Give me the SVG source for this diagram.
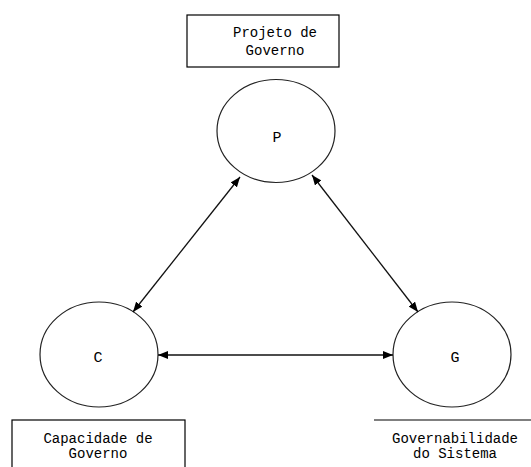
<svg xmlns="http://www.w3.org/2000/svg" width="531" height="467" viewBox="0 0 531 467">
  <style>
    .box { fill: #fff; stroke: #000; stroke-width: 1.2; }
    .node { fill: #fff; stroke: #222; stroke-width: 1.2; }
    .lbl { font-family: "Liberation Mono", "Courier New", monospace; font-size: 14px; fill: #000; text-anchor: middle; }
    .big { font-size: 15px; }
    .conn { stroke: #111; stroke-width: 1.3; fill: none; marker-start: url(#ah); marker-end: url(#ah); }
  </style>
  <defs>
    <marker id="ah" viewBox="0 0 10 8" refX="10" refY="4" markerWidth="10" markerHeight="8" markerUnits="userSpaceOnUse" orient="auto-start-reverse">
      <path d="M0,0 L10,4 L0,8 Z" fill="#000"/>
    </marker>
  </defs>
  <rect width="531" height="467" fill="#fff"/>

  <g id="label-projeto">
    <rect class="box" x="187" y="15" width="152" height="52"/>
    <text class="lbl" x="275" y="37">Projeto de</text>
    <text class="lbl" x="275" y="55">Governo</text>
  </g>

  <g id="node-P">
    <ellipse class="node" cx="276" cy="131" rx="59" ry="51.5"/>
    <text class="lbl big" x="277" y="142">P</text>
  </g>

  <g id="node-C">
    <ellipse class="node" cx="99" cy="354.5" rx="59" ry="52.5"/>
    <text class="lbl big" x="98" y="362">C</text>
  </g>

  <g id="node-G">
    <ellipse class="node" cx="452" cy="354.5" rx="59" ry="52.5"/>
    <text class="lbl big" x="455" y="362">G</text>
  </g>

  <g id="label-capacidade">
    <rect class="box" x="12" y="420" width="173" height="60"/>
    <text class="lbl" x="98" y="443">Capacidade de</text>
    <text class="lbl" x="98" y="458">Governo</text>
  </g>

  <g id="label-governabilidade">
    <line x1="374" y1="420" x2="531" y2="420" stroke="#000" stroke-width="1.2"/>
    <text class="lbl" x="455" y="443">Governabilidade</text>
    <text class="lbl" x="455" y="458">do Sistema</text>
  </g>

  <g id="connectors">
    <line class="conn" x1="240" y1="177" x2="133" y2="312"/>
    <line class="conn" x1="312" y1="175" x2="418" y2="312"/>
    <line class="conn" x1="158" y1="355" x2="393" y2="355"/>
  </g>
</svg>
